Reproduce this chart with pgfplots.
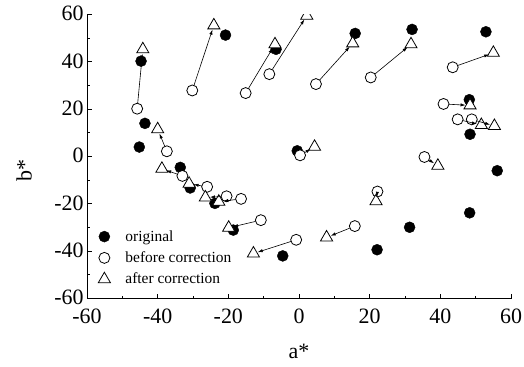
\documentclass[border=0pt]{standalone}
\usepackage{pgfplots}
\pgfplotsset{compat=1.18}
\usepackage{fontspec}
\setmainfont{Liberation Serif}
\usetikzlibrary{arrows.meta}
\begin{document}
\begin{tikzpicture}
\useasboundingbox (-87bp,-68bp) rectangle (437bp,298.5bp);
\begin{axis}[
  at={(0,0)}, anchor=south west,
  scale only axis, width=424bp, height=284bp,
  xmin=-60, xmax=60, ymin=-60, ymax=60,
  axis lines=left, axis line style={-, line width=0.8pt},
  xtick={-60,-40,-20,0,20,40,60},
  xticklabels={-60,-40,-20,0,20,40,60},
  ytick={-60,-40,-20,0,20,40,60},
  yticklabels={-60,-40,-20,0,20,40,60},
  minor tick num=1,
  tick align=inside,
  major tick length=5bp, minor tick length=3bp,
  tick style={line width=0.8pt, black},
  tick label style={font=\fontsize{22}{22}\selectfont},
  xticklabel style={yshift=-7bp},
  yticklabel style={xshift=0bp, yshift=1bp},
  xlabel={a*}, ylabel={b*},
  label style={font=\fontsize{22}{22}\selectfont},
  x label style={at={(axis description cs:0.5,-0.186)}, anchor=center},
  y label style={at={(axis description cs:-0.148,0.45)}, anchor=center},
  clip marker paths=true,
  legend style={at={(axis cs:-57.7,-29.5)}, anchor=north west, draw=none, fill=none,
    font=\fontsize{15.5}{15.5}\selectfont, row sep=5bp, cells={anchor=west},
    /tikz/every odd column/.append style={column sep=13bp}},
  legend cell align=left,
]
\addplot[only marks, mark=*, mark size=5.5bp, black] coordinates {
(-44.7,40.3) (-43.6,14.0) (-45.2,4.0) (-20.8,51.3) (-6.5,45.3) (15.9,52.0)
(32.0,53.7) (52.9,52.7) (48.2,24.0) (48.4,9.4) (-0.5,2.4) (56.1,-6.0)
(48.3,-23.8) (31.3,-29.9) (22.1,-39.4) (-4.6,-42.0) (-18.6,-31.1)
(-23.8,-19.8) (-30.8,-13.3) (-33.6,-4.6)
};
\addlegendentry{original}
\addplot[only marks, mark=*, mark size=5.5bp, mark options={fill=white, draw=black, line width=0.8pt}] coordinates {
(-45.8,20.2) (-37.4,2.2) (-30.2,27.9) (-15.1,26.8) (-8.4,34.8) (4.8,30.6)
(20.3,33.4) (43.5,37.7) (40.9,22.2) (44.9,15.7) (48.9,15.7) (0.3,0.5)
(35.5,-0.2) (22.2,-14.8) (15.8,-29.4) (-0.8,-35.2) (-10.8,-26.9)
(-16.4,-17.9) (-20.5,-16.8) (-26.0,-12.8) (-33.0,-8.2)
};
\addlegendentry{before correction}
\addplot[only marks, mark=triangle*, mark size=7bp, mark options={fill=white, draw=black, line width=0.8pt}] coordinates {
(-44.2,45.3) (-40.0,11.5) (-24.1,55.4) (-6.8,47.4) (2.2,59.5) (15.2,47.8)
(31.7,47.4) (55.0,43.8) (48.4,21.6) (51.6,13.3) (55.3,12.9) (4.4,4.1)
(39.3,-3.9) (21.8,-18.9) (7.8,-34.2) (-12.9,-41.0) (-19.9,-30.1)
(-22.7,-19.1) (-26.5,-17.3) (-31.1,-11.5) (-38.8,-5.2)
};
\addlegendentry{after correction}
\pgfplotsset{arr/.style={forget plot, no marks, black, line width=0.6pt,
  -{Latex[length=5bp,width=3.2bp]}, shorten <=5.5bp, shorten >=4.5bp}}
\addplot[arr] coordinates {(-45.8,20.2) (-44.2,45.3)};
\addplot[arr] coordinates {(-37.4,2.2) (-40.0,11.5)};
\addplot[arr] coordinates {(-30.2,27.9) (-24.1,55.4)};
\addplot[arr] coordinates {(-15.1,26.8) (-6.8,47.4)};
\addplot[arr] coordinates {(-8.4,34.8) (2.2,59.5)};
\addplot[arr] coordinates {(4.8,30.6) (15.2,47.8)};
\addplot[arr] coordinates {(20.3,33.4) (31.7,47.4)};
\addplot[arr] coordinates {(43.5,37.7) (55.0,43.8)};
\addplot[arr] coordinates {(40.9,22.2) (48.4,21.6)};
\addplot[arr] coordinates {(44.9,15.7) (51.6,13.3)};
\addplot[arr] coordinates {(48.9,15.7) (55.3,12.9)};
\addplot[arr] coordinates {(0.3,0.5) (4.4,4.1)};
\addplot[arr] coordinates {(35.5,-0.2) (39.3,-3.9)};
\addplot[arr] coordinates {(22.2,-14.8) (21.8,-18.9)};
\addplot[arr] coordinates {(15.8,-29.4) (7.8,-34.2)};
\addplot[arr] coordinates {(-0.8,-35.2) (-12.9,-41.0)};
\addplot[arr] coordinates {(-10.8,-26.9) (-19.9,-30.1)};
\addplot[arr] coordinates {(-16.4,-17.9) (-22.7,-19.1)};
\addplot[arr] coordinates {(-20.5,-16.8) (-26.5,-17.3)};
\addplot[arr] coordinates {(-26.0,-12.8) (-31.1,-11.5)};
\addplot[arr] coordinates {(-33.0,-8.2) (-38.8,-5.2)};
\end{axis}
\end{tikzpicture}
\end{document}
